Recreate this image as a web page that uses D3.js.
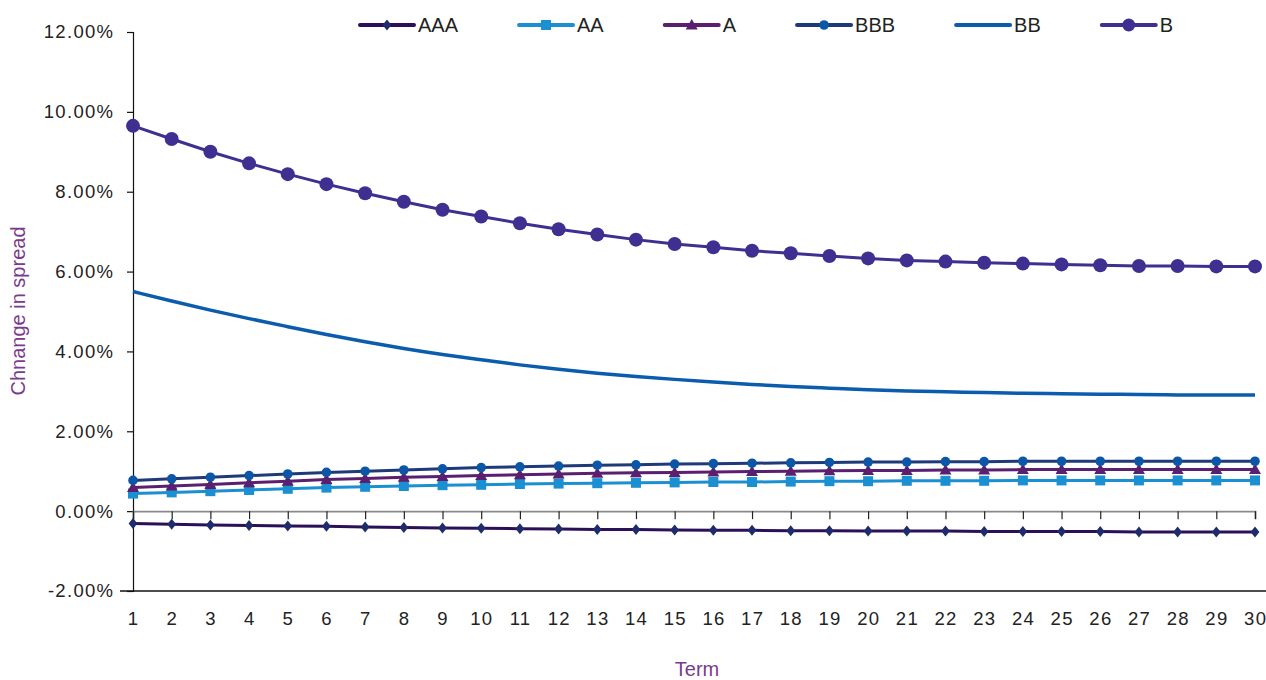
<!DOCTYPE html>
<html>
<head>
<meta charset="utf-8">
<script src="https://cdn.jsdelivr.net/npm/d3@7/dist/d3.min.js"></script>
<style>
  html, body { margin: 0; padding: 0; background: #fff; }
  svg { display: block; }
</style>
</head>
<body>
<svg id="chart" width="1266" height="680"></svg>
<script>
// ---- Data ----
const terms = d3.range(1, 31);
const yTicks = [-2, 0, 2, 4, 6, 8, 10, 12];
const seriesNames = ["AAA", "AA", "A", "BBB", "BB", "B"];

const AAA = [-0.31,-0.33,-0.35,-0.36,-0.37,-0.38,-0.40,-0.41,-0.42,-0.43,-0.44,-0.45,-0.46,-0.46,-0.47,-0.48,-0.48,-0.49,-0.49,-0.50,-0.50,-0.50,-0.51,-0.51,-0.51,-0.51,-0.52,-0.52,-0.52,-0.52];
const AA  = [0.44,0.47,0.50,0.53,0.56,0.59,0.61,0.63,0.65,0.66,0.68,0.69,0.70,0.71,0.72,0.73,0.73,0.74,0.75,0.75,0.76,0.76,0.76,0.77,0.77,0.77,0.77,0.77,0.77,0.77];
const A   = [0.59,0.63,0.67,0.71,0.75,0.79,0.82,0.85,0.87,0.89,0.91,0.93,0.95,0.96,0.97,0.98,0.99,1.00,1.01,1.02,1.02,1.03,1.03,1.04,1.04,1.04,1.04,1.04,1.04,1.04];
const BBB = [0.77,0.81,0.85,0.89,0.93,0.97,1.00,1.03,1.06,1.09,1.11,1.13,1.15,1.16,1.18,1.19,1.20,1.21,1.22,1.23,1.23,1.24,1.24,1.25,1.25,1.25,1.25,1.25,1.25,1.25];
const BB  = [5.50,5.26,5.03,4.82,4.62,4.42,4.24,4.07,3.92,3.79,3.66,3.55,3.45,3.37,3.30,3.23,3.17,3.12,3.08,3.04,3.01,2.99,2.97,2.95,2.94,2.93,2.92,2.91,2.91,2.91];
const B   = [9.65,9.32,9.00,8.71,8.44,8.19,7.96,7.75,7.55,7.38,7.21,7.06,6.93,6.80,6.69,6.61,6.52,6.46,6.39,6.33,6.28,6.25,6.22,6.20,6.18,6.16,6.14,6.14,6.13,6.13];

// ---- Styles ----
const styles = {
  AAA: { line: "#2b1058", marker: "#1f2c6b", shape: "diamond", size: 5.5, width: 3 },
  AA:  { line: "#1a8fd1", marker: "#1a8fd1", shape: "square", size: 5, width: 3 },
  A:   { line: "#5b1f6f", marker: "#5b1f6f", shape: "triangle", size: 6, width: 3 },
  BBB: { line: "#1f3a78", marker: "#0b56a6", shape: "circle", size: 4.8, width: 3 },
  BB:  { line: "#0b5cad", marker: null, shape: null, size: 0, width: 3.5 },
  B:   { line: "#3e2f91", marker: "#3e2f91", shape: "circle", size: 7, width: 3 }
};
const valuesByName = { AAA, AA, A, BBB, BB, B };

const svg = d3.select("#chart");
const tickFont = "'Liberation Sans', Arial, sans-serif";

const x = d3.scalePoint().domain(terms).range([133, 1255]);
const y = d3.scaleLinear().domain([-2, 12]).range([591, 32]);

// Bottom line at -2%
svg.append("line")
  .attr("x1", 120).attr("x2", 1266)
  .attr("y1", y(-2)).attr("y2", y(-2))
  .attr("stroke", "#111").attr("stroke-width", 1.3);

// Y axis
const yAxis = d3.axisLeft(y).tickValues(yTicks)
  .tickFormat(d => d.toFixed(2) + "%")
  .tickSize(6).tickPadding(14);
const gy = svg.append("g").attr("transform", "translate(133,0)").call(yAxis);
gy.select(".domain").attr("stroke", "#111").attr("stroke-width", 1.2);
gy.selectAll(".tick line").attr("stroke", "#111").attr("stroke-width", 1.2);
gy.selectAll(".tick text")
  .attr("font-family", tickFont).attr("font-size", 18.5)
  .attr("letter-spacing", "1.3px").attr("fill", "#222")
  .attr("dx", 1.3);

// X axis at zero
const xAxis = d3.axisBottom(x).tickSize(8).tickPadding(0).tickFormat("");
const gx = svg.append("g").attr("transform", `translate(0,${y(0)})`).call(xAxis);
gx.select(".domain").attr("stroke", "#8a8a8a").attr("stroke-width", 1.8);
gx.selectAll(".tick line").attr("stroke", "#222").attr("stroke-width", 1.2);

// X tick labels at bottom
svg.append("g").selectAll("text").data(terms).join("text")
  .attr("x", d => x(d) + 0.65)
  .attr("y", 625)
  .attr("text-anchor", "middle")
  .attr("font-family", tickFont).attr("font-size", 18.5)
  .attr("letter-spacing", "1.3px").attr("fill", "#222")
  .text(d => d);

// Axis titles
svg.append("text")
  .attr("x", 697).attr("y", 676)
  .attr("text-anchor", "middle")
  .attr("font-family", tickFont).attr("font-size", 20)
  .attr("fill", "#7b3a8c")
  .text("Term");
svg.append("text")
  .attr("transform", "translate(25,311) rotate(-90)")
  .attr("text-anchor", "middle")
  .attr("font-family", tickFont).attr("font-size", 20)
  .attr("fill", "#7b3a8c")
  .text("Chnange in spread");

// Marker drawing
function marker(sel, shape, size, color) {
  if (shape === "circle") {
    sel.append("circle").attr("r", size).attr("fill", color);
  } else if (shape === "square") {
    sel.append("rect").attr("x", -size).attr("y", -size)
      .attr("width", size * 2).attr("height", size * 2).attr("fill", color);
  } else if (shape === "diamond") {
    sel.append("path").attr("d", `M0,${-size}L${size*0.8},0L0,${size}L${-size*0.8},0Z`).attr("fill", color);
  } else if (shape === "triangle") {
    sel.append("path").attr("d", `M0,${-size}L${size},${size*0.75}L${-size},${size*0.75}Z`).attr("fill", color);
  }
}

// Series
seriesNames.forEach(name => {
  const st = styles[name];
  const vals = valuesByName[name];
  const pts = terms.map((t, i) => [t, vals[i]]);
  const line = d3.line().x(d => x(d[0])).y(d => y(d[1]))
    .curve(name === "BB" ? d3.curveBasis : d3.curveLinear);
  const g = svg.append("g");
  g.append("path").attr("d", line(pts))
    .attr("fill", "none").attr("stroke", st.line)
    .attr("stroke-width", st.width).attr("stroke-linejoin", "round");
  if (st.shape) {
    pts.forEach(p => {
      const m = g.append("g").attr("transform", `translate(${x(p[0])},${y(p[1])})`);
      marker(m, st.shape, st.size, st.marker);
    });
  }
});

// Legend
const legend = svg.append("g");
let lx = 360;
const ly = 25;
seriesNames.forEach(name => {
  const st = styles[name];
  const item = legend.append("g");
  item.append("line").attr("x1", lx).attr("x2", lx + 54)
    .attr("y1", ly).attr("y2", ly)
    .attr("stroke", st.line).attr("stroke-width", 4).attr("stroke-linecap", "round");
  if (st.shape) {
    const m = item.append("g").attr("transform", `translate(${lx + 27},${ly})`);
    marker(m, st.shape, name === "B" ? 6.5 : st.size, st.marker);
  }
  const t = item.append("text").attr("x", lx + 58).attr("y", ly)
    .attr("dy", "0.36em")
    .attr("font-family", tickFont).attr("font-size", 20).attr("fill", "#222")
    .text(name);
  const w = t.node().getComputedTextLength();
  lx = lx + 58 + w + 61;
});
</script>
</body>
</html>
